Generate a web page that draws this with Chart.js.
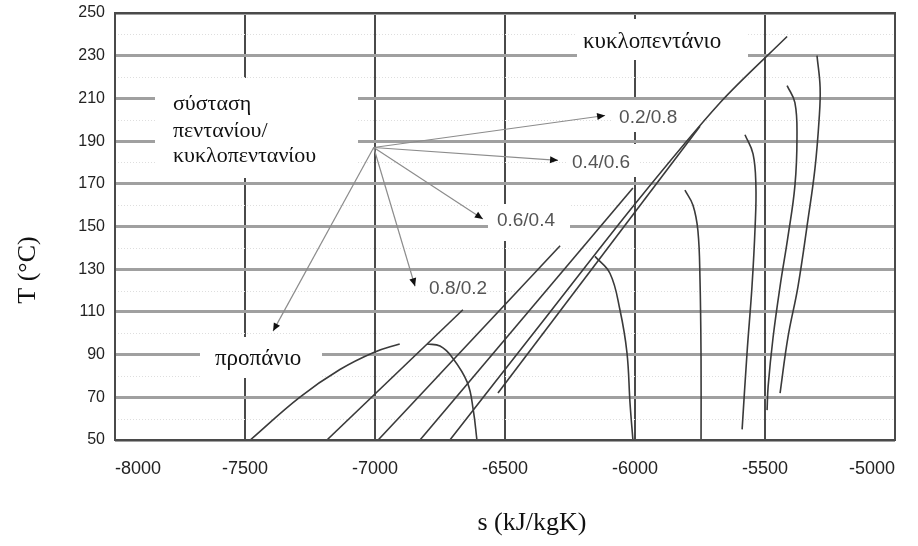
<!DOCTYPE html>
<html>
<head>
<meta charset="utf-8">
<script src="https://cdn.jsdelivr.net/npm/chart.js@4.4.1/dist/chart.umd.min.js"></script>
<style>
  html, body { margin: 0; background: #fff; }
  #wrap { width: 918px; height: 546px; }
</style>
</head>
<body>
<div id="wrap"><canvas id="chart" width="918" height="546"></canvas></div>
<script>
/* T-s diagram: propane, pentane/cyclopentane mixtures, cyclopentane */

const sTicks = [-8000, -7500, -7000, -6500, -6000, -5500, -5000];
const tTicks = [50, 70, 90, 110, 130, 150, 170, 190, 210, 230, 250];

// propane
const propaneS = [-7480, -7290, -7135, -7005, -6905];
const propaneT = [50, 70, 83, 91, 95];

// straight lines
const lineAS = [-7185, -6662];
const lineAT = [50, 111];
const lineBS = [-6988, -6288];
const lineBT = [50, 141];
const lineCS = [-6827, -6008];
const lineCT = [50, 168];
const lineDS = [-6712, -6365, -6004, -5673, -5415];
const lineDT = [50, 104, 160, 208, 239];
const lineES = [-6527, -5750];
const lineET = [72, 197];

// domes
const domeAS = [-6800, -6750, -6705, -6645, -6622, -6608];
const domeAT = [95, 94, 89, 77, 64, 50];
const domeDS = [-6154, -6096, -6058, -6031, -6019, -6008];
const domeDT = [136, 128, 111, 91, 67, 50];

// right-hand curves
const curveFS = [-5808, -5777, -5758, -5750, -5746, -5746];
const curveFT = [167, 160, 148, 125, 88, 50];
const curveGS = [-5577, -5546, -5535, -5538, -5550, -5569, -5588];
const curveGT = [193, 184, 169, 150, 122, 91, 55];
const curveHS = [-5415, -5385, -5377, -5385, -5412, -5442, -5469, -5488, -5492];
const curveHT = [216, 208, 192, 169, 145, 122, 98, 75, 64];
const curveIS = [-5300, -5288, -5292, -5308, -5335, -5373, -5412, -5442];
const curveIT = [230, 215, 200, 177, 153, 122, 98, 72];

// composition arrows
const arrowFromS = -7005;
const arrowFromT = 187;
const arrowToS = [-6115, -6296, -6585, -6846, -7392];
const arrowToT = [202, 181, 153.5, 122, 101];
const ratioLabels = ["0.2/0.8", "0.4/0.6", "0.6/0.4", "0.8/0.2"];

const curveColor = "#3a3a3a";
const pts = (xs, ys) => xs.map((v, i) => ({ x: v, y: ys[i] }));

function curve(xs, ys, tension) {
  return {
    data: pts(xs, ys),
    showLine: true,
    borderColor: curveColor,
    borderWidth: 1.6,
    pointRadius: 0,
    tension: tension,
  };
}

const datasets = [
  curve(propaneS, propaneT, 0.4),
  curve(lineAS, lineAT, 0),
  curve(lineBS, lineBT, 0),
  curve(lineCS, lineCT, 0),
  curve(lineDS, lineDT, 0.3),
  curve(lineES, lineET, 0),
  curve(domeAS, domeAT, 0.4),
  curve(domeDS, domeDT, 0.4),
  curve(curveFS, curveFT, 0.4),
  curve(curveGS, curveGT, 0.4),
  curve(curveHS, curveHT, 0.4),
  curve(curveIS, curveIT, 0.4),
];

arrowToS.forEach((s, i) => {
  datasets.push({
    data: [{ x: arrowFromS, y: arrowFromT }, { x: s, y: arrowToT[i] }],
    showLine: true,
    borderColor: "#8c8c8c",
    borderWidth: 1.2,
    pointRadius: 0,
  });
});

const annotate = {
  id: "annotate",
  beforeDatasetsDraw(chart) {
    const { ctx } = chart;
    const y = chart.scales.y;
    const a = chart.chartArea;
    ctx.save();
    // faint minor grid
    ctx.strokeStyle = "#dedede";
    ctx.lineWidth = 1;
    ctx.setLineDash([1, 2]);
    for (let i = 0; i < tTicks.length - 1; i++) {
      const py = Math.round(y.getPixelForValue((tTicks[i] + tTicks[i + 1]) / 2)) + 0.5;
      ctx.beginPath();
      ctx.moveTo(a.left, py);
      ctx.lineTo(a.right, py);
      ctx.stroke();
    }
    ctx.setLineDash([]);
    // white label boxes
    ctx.fillStyle = "#fff";
    [
      [155, 78, 203, 100],
      [577, 19, 171, 41],
      [612, 100, 72, 32],
      [568, 144, 72, 33],
      [488, 204, 82, 37],
      [200, 337, 122, 41],
    ].forEach((b) => ctx.fillRect(b[0], b[1], b[2], b[3]));

    // serif labels
    ctx.fillStyle = "#111";
    ctx.textBaseline = "middle";
    ctx.textAlign = "left";
    ctx.font = "22px 'Liberation Serif'";
    ctx.fillText("σύσταση", 173, 104);
    ctx.fillText("πεντανίου/", 173, 131);
    ctx.fillText("κυκλοπεντανίου", 173, 156);
    ctx.font = "23px 'Liberation Serif'";
    ctx.fillText("κυκλοπεντάνιο", 583, 42);
    ctx.fillText("προπάνιο", 215, 359);
    ctx.restore();
  },
  afterDatasetsDraw(chart) {
    const { ctx } = chart;
    const x = chart.scales.x;
    const y = chart.scales.y;
    const a = chart.chartArea;
    ctx.save();
    const ox = x.getPixelForValue(arrowFromS);
    const oy = y.getPixelForValue(arrowFromT);
    arrowToS.forEach((s, i) => {
      const tx = x.getPixelForValue(s);
      const ty = y.getPixelForValue(arrowToT[i]);
      const ang = Math.atan2(ty - oy, tx - ox);
      ctx.fillStyle = "#111";
      ctx.beginPath();
      ctx.moveTo(tx, ty);
      ctx.lineTo(tx - 8 * Math.cos(ang) + 3.5 * Math.sin(ang), ty - 8 * Math.sin(ang) - 3.5 * Math.cos(ang));
      ctx.lineTo(tx - 8 * Math.cos(ang) - 3.5 * Math.sin(ang), ty - 8 * Math.sin(ang) + 3.5 * Math.cos(ang));
      ctx.closePath();
      ctx.fill();
      if (ratioLabels[i]) {
        ctx.fillStyle = "#555";
        ctx.font = "19px 'Liberation Sans'";
        ctx.textBaseline = "middle";
        ctx.textAlign = "left";
        ctx.fillText(ratioLabels[i], tx + 14, ty + 2);
      }
    });
    // frame
    ctx.strokeStyle = "#4a4a4a";
    ctx.lineWidth = 2;
    ctx.strokeRect(a.left, a.top, a.right - a.left, a.bottom - a.top);
    // axis titles
    ctx.fillStyle = "#111";
    ctx.font = "26px 'Liberation Serif'";
    ctx.textAlign = "center";
    ctx.textBaseline = "middle";
    ctx.fillText("s (kJ/kgK)", 532, 523);
    ctx.translate(28, 270);
    ctx.rotate(-Math.PI / 2);
    ctx.fillText("T (°C)", 0, 0);
    ctx.restore();
  },
};

new Chart(document.getElementById("chart"), {
  type: "scatter",
  data: { datasets },
  options: {
    responsive: false,
    animation: false,
    layout: { padding: { left: 0, top: 13, right: 23, bottom: 0 } },
    plugins: { legend: { display: false }, tooltip: { enabled: false } },
    scales: {
      x: {
        type: "linear",
        min: sTicks[0],
        max: sTicks[sTicks.length - 1],
        afterBuildTicks: (sc) => { sc.ticks = sTicks.map((v) => ({ value: v })); },
        afterFit: (sc) => { sc.height = 106; sc.paddingLeft = 0; sc.paddingRight = 0; },
        grid: { color: "#4a4a4a", lineWidth: 2, drawTicks: false },
        border: { display: false },
        ticks: {
          padding: 18,
          align: "inner",
          color: "#222",
          font: { family: "'Liberation Sans'", size: 18 },
          callback: (v) => String(v),
        },
      },
      y: {
        type: "linear",
        z: -1,
        min: tTicks[0],
        max: tTicks[tTicks.length - 1],
        afterBuildTicks: (sc) => { sc.ticks = tTicks.map((v) => ({ value: v })); },
        afterFit: (sc) => { sc.width = 115; sc.paddingTop = 0; sc.paddingBottom = 0; },
        grid: { color: "#a0a0a0", lineWidth: 3, drawTicks: false },
        border: { display: false },
        ticks: {
          padding: 10,
          color: "#222",
          font: { family: "'Liberation Sans'", size: 16 },
          callback: (v) => String(v),
        },
      },
    },
  },
  plugins: [annotate],
});
</script>
</body>
</html>
